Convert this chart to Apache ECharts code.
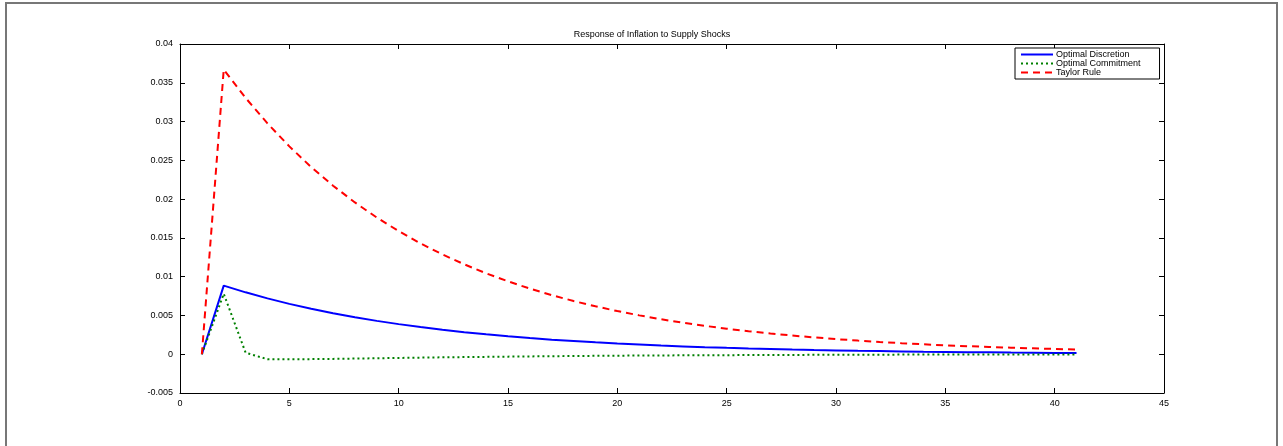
<!DOCTYPE html>
<html>
<head>
<meta charset="utf-8">
<script src="https://cdn.jsdelivr.net/npm/echarts@6/dist/echarts.min.js"></script>
<style>html,body{margin:0;padding:0;background:#fff;}#c{width:1283px;height:446px;}</style>
</head>
<body>
<div id="c"></div>
<script>
const periods = [1,2,3,4,5,6,7,8,9,10,11,12,13,14,15,16,17,18,19,20,21,22,23,24,25,26,27,28,29,30,31,32,33,34,35,36,37,38,39,40,41];
const discretion = [0,0.00885,0.00798,0.00720,0.00649,0.00586,0.00528,0.00477,0.00430,0.00388,0.00350,0.00315,0.00284,0.00257,0.00231,0.00209,0.00188,0.00170,0.00153,0.00138,0.00125,0.00112,0.00101,0.00091,0.00082,0.00074,0.00067,0.00060,0.00054,0.00049,0.00044,0.00040,0.00036,0.00032,0.00029,0.00026,0.00024,0.00021,0.00019,0.00017,0.00016];
const commitment = [0,0.0078,0.0002,-0.00065,-0.00066,-0.00063,-0.0006,-0.00056,-0.00052,-0.00048,-0.00044,-0.0004,-0.00037,-0.00034,-0.00031,-0.00028,-0.00026,-0.00023,-0.00021,-0.00019,-0.00017,-0.00016,-0.00014,-0.00013,-0.00012,-0.00011,-0.0001,-0.00009,-0.00008,-0.00007,-0.00007,-0.00006,-0.00005,-0.00005,-0.00004,-0.00004,-0.00004,-0.00003,-0.00003,-0.00003,-0.00002];
const taylor = [0,0.0367,0.03305,0.02976,0.02680,0.02413,0.02173,0.01957,0.01762,0.01587,0.01429,0.01287,0.01159,0.01043,0.00940,0.00846,0.00762,0.00686,0.00618,0.00556,0.00501,0.00451,0.00406,0.00366,0.00329,0.00297,0.00267,0.00241,0.00217,0.00195,0.00176,0.00158,0.00142,0.00128,0.00115,0.00104,0.00094,0.00084,0.00076,0.00068,0.00062];
const seriesNames = ['Optimal Discretion','Optimal Commitment','Taylor Rule'];
const titleText = 'Response of Inflation to Supply Shocks';

const pair = arr => periods.map((p,i)=>[p,arr[i]]);
const font = 'Liberation Sans, Arial, sans-serif';
const chart = echarts.init(document.getElementById('c'));
const axisCommon = {
  axisLine:{show:true,onZero:false,lineStyle:{color:'#000',width:1}},
  axisTick:{show:true,inside:true,length:5,lineStyle:{color:'#000'}},
  splitLine:{show:false}
};
chart.setOption({
  animation:false,
  backgroundColor:'#fff',
  title:{text:titleText,left:652,top:30,padding:0,textAlign:'center',
    textStyle:{fontSize:9,fontWeight:'normal',color:'#000',fontFamily:font}},
  grid:{left:180,right:119,top:44,bottom:53},
  legend:{orient:'vertical',left:1015,top:48,padding:[2,19,2,5],itemGap:0,itemWidth:32,itemHeight:8,
    backgroundColor:'#fff',borderColor:'#000',borderWidth:1,borderRadius:0,
    itemStyle:{opacity:0},
    textStyle:{fontSize:9,color:'#000',fontFamily:font,padding:[0,0,0,-2]},
    data:seriesNames},
  xAxis:[
    Object.assign({type:'value',min:0,max:45,interval:5,position:'bottom',
      axisLabel:{fontSize:9,color:'#000',fontFamily:font,margin:6}},axisCommon),
    Object.assign({type:'value',min:0,max:45,interval:5,position:'top',
      axisLabel:{show:false}},axisCommon)
  ],
  yAxis:[
    Object.assign({type:'value',min:-0.005,max:0.04,interval:0.005,position:'left',
      axisLabel:{fontSize:9,color:'#000',fontFamily:font,margin:7,
        formatter:v=>String(parseFloat(v.toFixed(4)))}},axisCommon),
    Object.assign({type:'value',min:-0.005,max:0.04,interval:0.005,position:'right',
      axisLabel:{show:false}},axisCommon)
  ],
  series:[
    {name:seriesNames[0],type:'line',data:pair(discretion),symbol:'none',
      lineStyle:{color:'#0000ff',width:2,type:'solid'},itemStyle:{color:'#0000ff'}},
    {name:seriesNames[1],type:'line',data:pair(commitment),symbol:'none',
      lineStyle:{color:'#008000',width:2,type:[2,3]},itemStyle:{color:'#008000'}},
    {name:seriesNames[2],type:'line',data:pair(taylor),symbol:'none',
      lineStyle:{color:'#ff0000',width:2,type:[7,5]},itemStyle:{color:'#ff0000'}}
  ],
  graphic:[{type:'rect',shape:{x:6,y:3,width:1271,height:500},
    style:{fill:'none',stroke:'#777',lineWidth:2},silent:true}]
});
</script>
</body>
</html>
